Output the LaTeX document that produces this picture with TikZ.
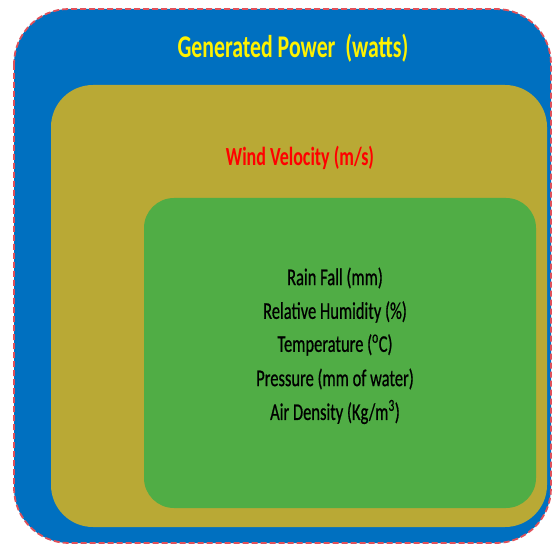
\documentclass[tikz,border=0pt]{standalone}
\usepackage{fontspec}
\setmainfont{Carlito}
\newfontfamily\semibfont[FakeBold=0.8]{Carlito}
\definecolor{outerblue}{HTML}{0070C0}
\definecolor{olivebox}{HTML}{B9A935}
\definecolor{greenbox}{HTML}{50AD45}
\definecolor{dashred}{HTML}{E0505A}
\newcommand{\tallt}[1]{\scalebox{1}[1.45]{#1}}
\begin{document}
\begin{tikzpicture}[x=1pt,y=-1pt,
  titletext/.style={inner sep=0pt, font=\fontsize{21.8}{25}\selectfont\bfseries, text=yellow},
  windtext/.style={inner sep=0pt, font=\fontsize{18}{20}\selectfont\bfseries, text=red},
  vartext/.style={inner sep=0pt, font=\fontsize{16.5}{20}\selectfont\semibfont, text=black}]
\useasboundingbox (0,0) rectangle (554,545);
\fill[outerblue, draw=dashred, dash pattern=on 6pt off 3pt, line width=1.8pt, rounded corners=55pt] (14,9) rectangle (551,543);
\fill[olivebox, rounded corners=42pt] (51,85) rectangle (547,527);
\fill[greenbox, rounded corners=30pt] (144,198) rectangle (536,508);
\node[titletext] (title) at (293,48) {\tallt{Generated Power\ \ (watts)}};
\node[windtext] (wind) at (300,158) {\tallt{Wind Velocity (m/s)}};
\node[vartext] (v1) at (335,278) {\tallt{Rain Fall (mm)}};
\node[vartext] (v2) at (335,312) {\tallt{Relative Humidity (\%)}};
\node[vartext] (v3) at (335,345) {\tallt{Temperature (\textsuperscript{o}C)}};
\node[vartext] (v4) at (335,379) {\tallt{Pressure (mm of water)}};
\node[vartext] (v5) at (335,412) {\tallt{Air Density (Kg/m\textsuperscript{3})}};
\end{tikzpicture}
\end{document}
